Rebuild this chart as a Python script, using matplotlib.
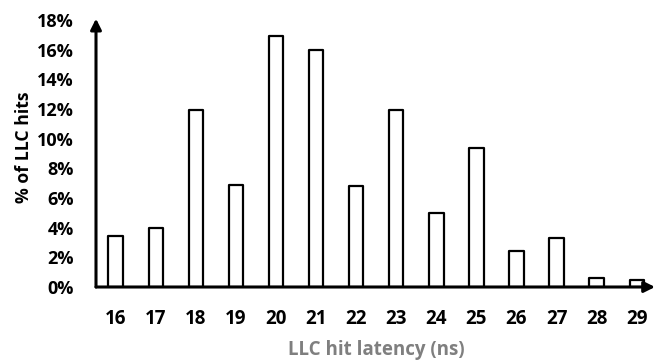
import matplotlib
matplotlib.use("Agg")
import matplotlib.pyplot as plt

latency = [16, 17, 18, 19, 20, 21, 22, 23, 24, 25, 26, 27, 28, 29]
pct_hits = [3.45, 3.95, 11.9, 6.85, 16.9, 16.0, 6.8, 11.9, 5.0, 9.35, 2.45, 3.3, 0.6, 0.45]
yticks = [0, 2, 4, 6, 8, 10, 12, 14, 16, 18]

plt.rcParams['font.family'] = ['Open Sans', 'DejaVu Sans']

fig = plt.figure(figsize=(6.59, 3.60), dpi=100)
ax = fig.add_axes([96/659, 73/360, 559/659, 267/360])

ax.bar(latency, pct_hits, width=0.36, facecolor='white', edgecolor='black',
       linewidth=1.6, joinstyle='round', zorder=2)

ax.set_xlim(15.51, 29.456)
ax.set_ylim(0, 18)
for s in ax.spines.values():
    s.set_visible(False)

ax.set_xticks(latency)
ax.set_xticklabels([str(v) for v in latency], fontsize=13.5, fontweight='bold')
ax.set_yticks(yticks)
ax.set_yticklabels([f"{v}%" for v in yticks], fontsize=13, fontweight='bold')
ax.tick_params(axis='x', length=0, pad=16)
ax.tick_params(axis='y', length=0, pad=16)

ax.annotate('', xy=(1.0, 0), xytext=(0, 0), xycoords='axes fraction',
            arrowprops=dict(arrowstyle='-|>', lw=2.2, color='black', mutation_scale=16,
                            shrinkA=0, shrinkB=0), zorder=5)
ax.annotate('', xy=(0, 1.005), xytext=(0, 0), xycoords='axes fraction',
            arrowprops=dict(arrowstyle='-|>', lw=2.2, color='black', mutation_scale=16,
                            shrinkA=0, shrinkB=0), zorder=5)

fig.text(376/659, 1 - 350/360, "LLC hit latency (ns)", ha='center', va='center',
         fontsize=13.5, fontweight='bold', color='#7f7f7f')
fig.text(24/659, 1 - 147/360, "% of LLC hits", ha='center', va='center',
         rotation=90, fontsize=12.7, fontweight='bold', color='black')

fig.savefig("out.png", dpi=100)
